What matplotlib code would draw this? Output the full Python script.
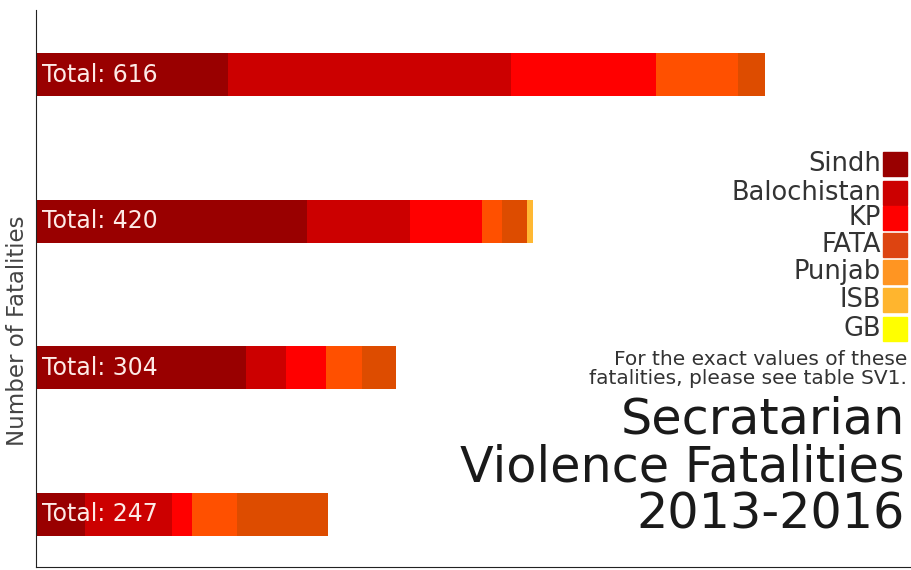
import numpy as np
import matplotlib
matplotlib.use("Agg")
from matplotlib import pyplot as plt
from matplotlib.patches import Rectangle

plt.rcParams["font.family"] = ["DejaVu Sans"]

# years, bottom bar first
years = ["2016", "2015", "2014", "2013"]
totals = [247, 304, 420, 616]

# segment values (left to right)
sindh = [41, 177, 229, 162]
balochistan = [74, 34, 87, 239]
kp = [17, 34, 61, 123]
fata = [38, 30, 17, 69]
punjab = [77, 29, 21, 23]
isb = [0, 0, 5, 0]

series = [sindh, balochistan, kp, fata, punjab, isb]
bar_colors = ["#990000", "#CC0000", "#FF0000", "#FF5000", "#DD4C00", "#FFB833"]

legend_names = ["Sindh", "Balochistan", "KP", "FATA", "Punjab", "ISB", "GB"]
legend_colors = ["#990000", "#CC0000", "#FF0000", "#DD4411", "#FF9522", "#FFB52E", "#FFFF00"]

W, H = 912, 570
fig = plt.figure(figsize=(W / 100, H / 100), dpi=100)
ax = fig.add_axes([36 / W, 3 / H, 876 / W, 557 / H])

y = np.arange(len(years))
left = np.zeros(len(years))
for vals, col in zip(series, bar_colors):
    ax.barh(y, vals, left=left, height=0.294, color=col, edgecolor="none")
    left += np.array(vals)

for yi, t in zip(y, totals):
    ax.text(5, yi, f"Total: {t}", color="#FDEAE6", fontsize=17,
            va="center", ha="left")

ax.set_xlim(0, 740)
ax.set_ylim(-0.362, 3.444)
ax.set_xticks([])
ax.set_yticks([])
for s in ["top", "right"]:
    ax.spines[s].set_visible(False)
ax.spines["left"].set_color("#222222")
ax.spines["bottom"].set_color("#222222")
ax.set_ylabel("Number of Fatalities", fontsize=16.5, color="#444444")
ax.yaxis.set_label_coords(-0.008, 0.425)

# legend: right aligned labels with square swatches
row_y = [164, 193, 218, 245, 272, 300, 329]
for name, col, ry in zip(legend_names, legend_colors, row_y):
    fig.text(881 / W, 1 - ry / H, name, ha="right", va="center",
             fontsize=18.5, color="#333333")
    fig.patches.append(Rectangle((883 / W, 1 - (ry + 12) / H), 24 / W, 24 / H,
                                 transform=fig.transFigure, color=col))

fig.text(907 / W, 1 - 369 / H,
         "For the exact values of these\nfatalities, please see table SV1.",
         ha="right", va="center", fontsize=14.5, color="#333333",
         linespacing=1.02)

fig.text(905 / W, 1 - 467 / H,
         "Secratarian\nViolence Fatalities\n2013-2016",
         ha="right", va="center", fontsize=35.5, color="#1a1a1a",
         linespacing=0.98)

fig.savefig("out.png", dpi=100, facecolor="white")
